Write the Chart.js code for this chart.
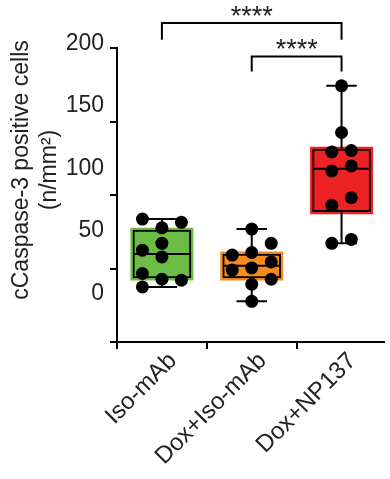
<!DOCTYPE html>
<html>
<head>
<meta charset="utf-8">
<script src="https://cdn.jsdelivr.net/npm/chart.js@4"></script>
<style>
  body { margin: 0; background: #fff; }
</style>
</head>
<body>
<canvas id="caspChart" width="390" height="479"></canvas>
<script>
const groups = ["Iso-mAb", "Dox+Iso-mAb", "Dox+NP137"];
const boxColors = ["#6cbd45", "#f58a1f", "#ed2224"];

// single animals
const isoMab = [83.6, 77.7, 81.4, 67.1, 62.5, 57.9, 46.6, 42.7, 42.0, 37.5];
const doxIso = [76.8, 67.1, 59.1, 60.9, 54.5, 48.9, 50.4, 42.7, 39.3, 27.7];
const doxNp137 = [174.3, 142.5, 129.3, 130.2, 119.8, 116.4, 98.2, 93.0, 69.8, 67.1];
// which column of the scatter each dot sits in
const isoCols = [-1, 0, 1, 0, -1, 0, -1, 0, 1, -1];
const doxIsoCols = [0, 1, -1, 0, 1, -1, 0, 1, 0, 0];
const doxNpCols = [0, 0, -0.5, 0.5, 0.5, -0.5, 0.5, -0.5, 0.5, -0.5];

// boxes and whiskers as drawn
const boxLow = [43.6, 43.6, 88.6];
const boxHigh = [76.1, 59.8, 131.2];
const medians = [59.8, 51.8, 117.9];
const whiskerLow = [37.5, 27.7, 67.1];
const whiskerHigh = [83.6, 76.8, 174.3];

const yTicks = [0, 50, 100, 150, 200];

// significance brackets
const sigPairs = [[0, 2], [1, 2]];
const sigTop = [217, 194.3];
const sigFoot = [205.6, 184];
const sigText = ["****", "****"];

const yTitle = ["cCaspase-3 positive cells", "(n/mm\u00b2)"];

const FONT = 'Arial, "Liberation Sans", sans-serif';
const COL = 0.217;  // x units between scatter columns
const CAP = 0.17;   // half width of whisker caps
const HALF = 0.315; // half width of the box

Chart.defaults.font.family = FONT;
Chart.defaults.color = "#222";

const allVals = [isoMab, doxIso, doxNp137];
const allCols = [isoCols, doxIsoCols, doxNpCols];
const dots = allVals.flatMap((vals, g) =>
  vals.map((v, k) => ({ x: g + allCols[g][k] * COL, y: v }))
);

const whiskers = [];
groups.forEach((g, i) => {
  whiskers.push(
    { x: i, y: boxHigh[i] }, { x: i, y: whiskerHigh[i] }, { x: i, y: null },
    { x: i - CAP, y: whiskerHigh[i] }, { x: i + CAP, y: whiskerHigh[i] }, { x: i, y: null },
    { x: i, y: boxLow[i] }, { x: i, y: whiskerLow[i] }, { x: i, y: null },
    { x: i - CAP, y: whiskerLow[i] }, { x: i + CAP, y: whiskerLow[i] }, { x: i, y: null },
    { x: i - HALF, y: medians[i] }, { x: i + HALF, y: medians[i] }, { x: i, y: null }
  );
});

const brackets = [];
sigPairs.forEach(([a, b], k) => {
  brackets.push(
    { x: a, y: sigFoot[k] }, { x: a, y: sigTop[k] },
    { x: b, y: sigTop[k] }, { x: b, y: sigFoot[k] }, { x: b, y: null }
  );
});

const boxes = groups.map((g, i) => ({ x: i, y: [boxLow[i], boxHigh[i]] }));

// stars over the brackets + the rotated y title
const extras = {
  id: "extras",
  afterDraw(chart) {
    const { ctx, scales } = chart;
    ctx.save();
    ctx.fillStyle = "#222";
    ctx.font = "27px " + FONT;
    ctx.textAlign = "center";
    ctx.textBaseline = "alphabetic";
    sigPairs.forEach(([a, b], k) => {
      const x = scales.x.getPixelForValue((a + b) / 2);
      const y = scales.y.getPixelForValue(sigTop[k]);
      ctx.fillText(sigText[k], x, y + 2);
    });
    ctx.font = "23px " + FONT;
    yTitle.forEach((line, k) => {
      ctx.save();
      ctx.translate(28 + k * 28, 170);
      ctx.rotate(-Math.PI / 2);
      ctx.fillText(line, 0, 0);
      ctx.restore();
    });
    ctx.restore();
  }
};

const ctx = document.getElementById("caspChart");

new Chart(ctx, {
  type: "bar",
  data: {
    datasets: [
      {
        type: "line",
        data: dots,
        showLine: false,
        pointRadius: 6.5,
        pointBackgroundColor: "#000",
        pointBorderWidth: 0,
        order: 0
      },
      {
        type: "line",
        data: whiskers,
        borderColor: "#000",
        borderWidth: 2,
        pointRadius: 0,
        spanGaps: false,
        order: 1
      },
      {
        type: "line",
        data: brackets,
        borderColor: "#000",
        borderWidth: 2,
        pointRadius: 0,
        spanGaps: false,
        clip: false,
        order: 1
      },
      {
        data: boxes,
        backgroundColor: boxColors,
        borderColor: "#000",
        borderWidth: 2,
        borderSkipped: false,
        barThickness: 58,
        grouped: false,
        order: 2
      },
      {
        data: boxes,
        backgroundColor: boxColors,
        borderWidth: 0,
        inflateAmount: 2.5,
        barThickness: 58,
        grouped: false,
        order: 3
      }
    ]
  },
  options: {
    responsive: false,
    animation: false,
    layout: { padding: { top: 48, right: 0, left: 0, bottom: 0 } },
    plugins: { legend: { display: false }, tooltip: { enabled: false } },
    scales: {
      x: {
        type: "linear",
        min: -0.5,
        max: 2.467, // axis runs off the right edge in the original
        offset: false,
        afterBuildTicks: (s) => { s.ticks = groups.map((g, i) => ({ value: i })); },
        afterFit: (s) => { s.height = 137; },
        ticks: {
          autoSkip: false,
          maxRotation: 45,
          minRotation: 45,
          padding: -2,
          labelOffset: 11,
          font: { size: 24 },
          color: "#222",
          callback: (v) => groups[v]
        },
        grid: { drawOnChartArea: false, tickLength: 7, lineWidth: 2, color: "#000" },
        border: { width: 2, color: "#000" }
      },
      y: {
        min: 0,
        max: 200,
        weight: 0,
        afterBuildTicks: (s) => { s.ticks = yTicks.map((v) => ({ value: v })); },
        ticks: { display: false },
        grid: { drawOnChartArea: false, tickLength: 7, lineWidth: 2, color: "#000" },
        border: { width: 2, color: "#000" }
      },
      yl: {
        type: "linear",
        position: "left",
        weight: 1,
        min: -39,
        max: 196.2,
        afterBuildTicks: (s) => { s.ticks = yTicks.map((v) => ({ value: v })); },
        afterFit: (s) => { s.width = 110; },
        ticks: { autoSkip: false, padding: 6, font: { size: 23 }, color: "#222", callback: (v) => String(v) },
        grid: { display: false, drawTicks: false },
        border: { display: false }
      }
    }
  },
  plugins: [extras]
});
</script>
</body>
</html>
